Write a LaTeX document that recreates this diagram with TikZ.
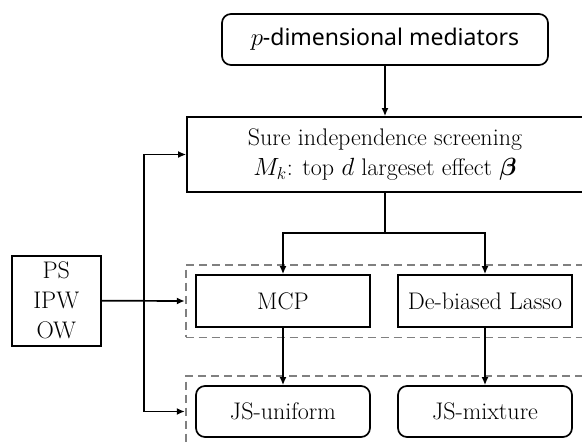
\documentclass[tikz,border=0pt]{standalone}
\usepackage{amsmath}
\usepackage{fontspec}
\setsansfont{Noto Sans}
\usepackage{tikz}
\usetikzlibrary{arrows.meta, positioning, fit}

\begin{document}
\begin{tikzpicture}[x=1pt, y=-1pt, line width=1.7pt,
        >={Latex[length=8pt,width=7pt]},
        font=\fontsize{24}{30}\selectfont,
        box/.style={draw, rectangle, inner sep=0pt, align=center},
        rbox/.style={box, rounded corners=9pt},
        group/.style={draw=gray, dashed, dash pattern=on 8pt off 5pt, inner sep=9.5pt}]
        \useasboundingbox (0,0) rectangle (582,444);
        \node[rbox, minimum width=326pt, minimum height=51pt] (med) at (385,39.5)
              {\sffamily\fontsize{23}{28}\selectfont $p$-dimensional mediators};
        \node[box, minimum width=396pt, minimum height=75pt]  (sis) at (385,154.5)
              {Sure independence screening\\$M_k$: top $d$ largeset effect $\boldsymbol{\beta}$};
        \node[box, minimum width=89pt, minimum height=90pt]   (ps)  at (56.3,300.7)
              {PS\\IPW\\OW};
        \node[box,  minimum width=174pt, minimum height=52pt] (mcp) at (283,301) {MCP};
        \node[box,  minimum width=174pt, minimum height=52pt] (dbl) at (485,301) {De-biased Lasso};
        \node[rbox, minimum width=174pt, minimum height=51pt] (jsu) at (283,411.5) {JS-uniform};
        \node[rbox, minimum width=174pt, minimum height=51pt] (jsm) at (485,411.5) {JS-mixture};
        \node[group, fit=(mcp) (dbl)] (est) {};
        \node[group, fit=(jsu) (jsm)] (js)  {};
        \coordinate (split) at (385,233.3);
        \coordinate (up)    at (144,154.5);
        \coordinate (down)  at (144,411.5);
        \draw[->] (med) -- (sis);
        \draw (sis) -- (split);
        \draw[->] (split) -| (mcp);
        \draw[->] (split) -| (dbl);
        \draw[->] (mcp) -- (jsu);
        \draw[->] (dbl) -- (jsm);
        \draw[->] (ps.east) -- (est.west);
        \draw (up) -- (down);
        \draw[->] (up) -- (sis.west |- up);
        \draw[->] (down) -- (js.west |- down);
\end{tikzpicture}
\end{document}
